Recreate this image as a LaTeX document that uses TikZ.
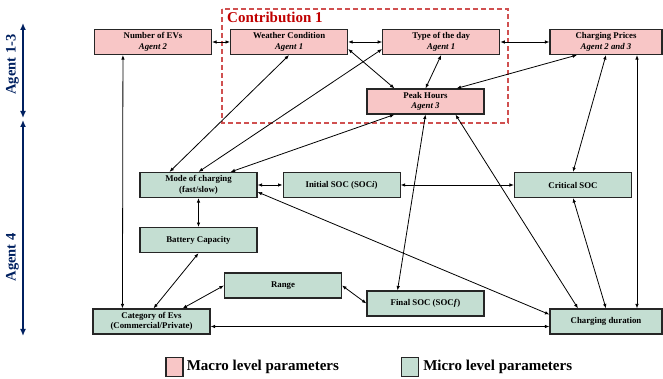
\documentclass[tikz,border=0pt]{standalone}
\usepackage{fontspec}
\setmainfont{Liberation Serif}
\usetikzlibrary{positioning}
\usetikzlibrary{arrows.meta}
\definecolor{macrofill}{RGB}{248,198,198}
\definecolor{microfill}{RGB}{196,222,210}
\definecolor{navy}{RGB}{0,32,96}
\definecolor{contrib}{RGB}{192,0,0}
\definecolor{contribline}{RGB}{208,80,80}
\tikzstyle{block} = [draw=black!85, line width=1.1pt, rectangle, minimum height=25pt, minimum width=117pt, inner sep=1pt, align=center, font=\bfseries\fontsize{8.8}{10.5}\selectfont]
\tikzstyle{macro} = [block, fill=macrofill]
\tikzstyle{micro} = [block, fill=microfill]
\tikzstyle{link} = [<->, line width=0.8pt]
\tikzstyle{agentaxis} = [{Latex[length=7pt,width=6pt]}-{Latex[length=7pt,width=6pt]}, line width=2.2pt, navy]
\tikzstyle{agentlabel} = [rotate=90, text=navy, font=\bfseries\fontsize{14.5}{16}\selectfont]
\tikzstyle{legendkey} = [draw=black!85, line width=1.1pt, minimum width=17pt, minimum height=19pt, inner sep=0pt]
\tikzstyle{legendtext} = [inner sep=0pt, font=\bfseries\fontsize{15}{17}\selectfont]

\begin{document}
\begin{tikzpicture}[x=1pt,y=1pt,>={Latex[length=4.5pt,width=3.5pt]}]
    \useasboundingbox (0,0) rectangle (663,379);

    % macro level
    \node [macro] (evs) at (153,337) {Number of EVs\\\textit{Agent 2}};
    \node [macro, right = 18pt of evs] (weather) {Weather Condition\\\textit{Agent 1}};
    \node [macro, right = 34pt of weather] (day) {Type of the day\\\textit{Agent 1}};
    \node [macro, minimum width=112pt] (prices) at (606,337) {Charging Prices\\\textit{Agent 2 and 3}};
    \node [macro] (peak) at (425.5,277.5) {Peak Hours\\\textit{Agent 3}};

    % micro level
    \node [micro] (mode) at (198.5,194) {Mode of charging\\(fast/slow)};
    \node [micro, right = 25pt of mode] (initsoc) {Initial SOC (SOC\textit{i})};
    \node [micro] (critsoc) at (573,194) {Critical SOC};
    \node [micro, below = 29pt of mode] (battery) {Battery Capacity};
    \node [micro] (range) at (283,93.5) {Range};
    \node [micro] (finalsoc) at (425.5,75.5) {Final SOC (SOC\textit{f})};
    \node [micro] (category) at (151.5,57.5) {Category of Evs\\(Commercial/Private)};
    \node [micro, minimum width=112pt] (duration) at (606,57.5) {Charging duration};

    % contribution frame
    \draw [contribline, dashed, line width=1.1pt, dash pattern=on 5pt off 3pt] (222,370) rectangle (508,256);
    \node [anchor=west, text=contrib, font=\bfseries\fontsize{15}{17}\selectfont, inner sep=0pt] (contriblabel) at (227,362) {Contribution 1};

    % connections
    \draw [link] (evs) -- (weather);
    \draw [link] (weather) -- (day);
    \draw [link] (day) -- (prices);
    \draw [link] ([yshift=-7pt]weather.east) -- ([xshift=28pt]peak.north west);
    \draw [link] (day.south) -- (peak.north);
    \draw [link] ([xshift=-29pt]prices.south) -- ([xshift=31pt]peak.north);
    \draw [link] ([xshift=30pt]mode.north west) -- (weather.south);
    \draw [link] (mode.north) -- ([yshift=6pt]day.south west);
    \draw [link] ([xshift=-27pt]mode.north east) -- ([xshift=28pt]peak.south west);
    \draw [link] (mode) -- (initsoc);
    \draw [link] (initsoc) -- (critsoc);
    \draw [link] ([yshift=-7pt]mode.east) -- ([yshift=7pt]duration.west);
    \draw [link] (mode) -- (battery);
    \draw [link] (battery.south) -- ([xshift=2pt]category.north);
    \draw [link] (range.west) -- ([xshift=-28pt]category.north east);
    \draw [link] (range.east) -- (finalsoc.west);
    \draw [link] ([xshift=29pt]evs.south west) -- ([xshift=30pt]category.north west);
    \draw [link] ([yshift=-5pt]category.east) -- ([yshift=-5pt]duration.west);
    \draw [link] (peak.south) -- ([xshift=-28pt]finalsoc.north);
    \draw [link] ([xshift=30pt]peak.south) -- ([xshift=-28pt]duration.north);
    \draw [link] (prices.south) -- (critsoc.north);
    \draw [link] ([xshift=31pt]prices.south) -- ([xshift=31pt]duration.north);
    \draw [link] (critsoc.south) -- (duration.north);

    % agent axis
    \coordinate (axtop) at (23,356);
    \coordinate (axmid1) at (23,261);
    \coordinate (axmid2) at (23,259);
    \coordinate (axbot) at (23,43);
    \draw [agentaxis] (axtop) -- (axmid1);
    \draw [agentaxis] (axmid2) -- (axbot);
    \node [agentlabel] (agentA) at (12.5,314.5) {Agent 1-3};
    \node [agentlabel] (agentB) at (12.5,121.5) {Agent 4};

    % legend
    \node [legendkey, fill=macrofill] (macrokey) at (174.5,12) {};
    \node [legendtext, right = 3pt of macrokey] (macrotext) {Macro level parameters};
    \node [legendkey, fill=microfill] (microkey) at (410,12) {};
    \node [legendtext, right = 4pt of microkey] (microtext) {Micro level parameters};
\end{tikzpicture}
\end{document}
